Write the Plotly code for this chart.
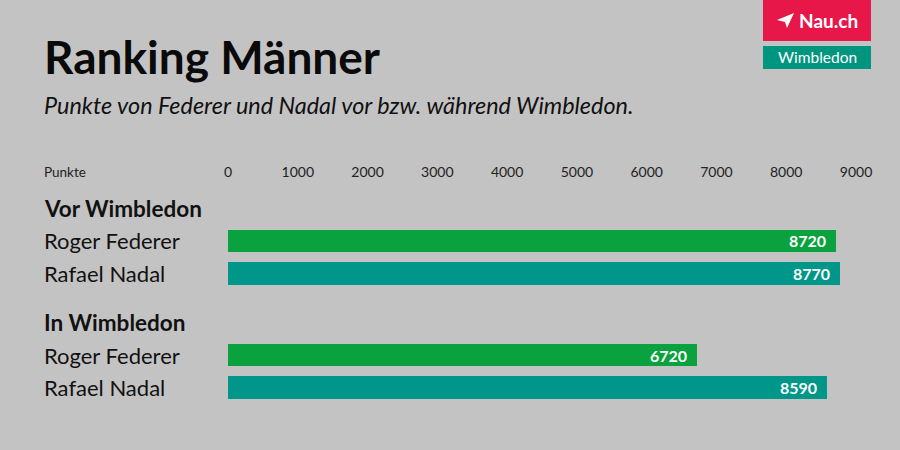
import plotly.graph_objects as go

# Daten
gruppen = ["Vor Wimbledon", "In Wimbledon"]
spieler = ["Roger Federer", "Rafael Nadal"]
punkte_vor = [8720, 8770]
punkte_in = [6720, 8590]
x_ticks = [0, 1000, 2000, 3000, 4000, 5000, 6000, 7000, 8000, 9000]

farben = {"Roger Federer": "#09a23e", "Rafael Nadal": "#00978a"}
bg = "#c4c3c3"
schrift = "Lato"

W, H = 900, 450
L, R, T, B = 228, 44, 192, 46
PW, PH = W - L - R, H - T - B


def px_x(p):
    return (p - L) / PW


def px_y(p):
    return 1 - (p - T) / PH


# Zeilenpositionen: Kopfzeile je Gruppe, dann die Spieler
def zeile(g, i):
    return g * 3.5 + i


werte = [punkte_vor, punkte_in]

fig = go.Figure()
for k, name in enumerate(spieler):
    ys = [zeile(g, k + 1) for g in range(len(gruppen))]
    xs = [werte[g][k] for g in range(len(gruppen))]
    fig.add_trace(go.Bar(
        x=xs, y=ys, orientation="h",
        marker=dict(color=farben[name], line=dict(width=0)),
        width=0.7,
        hoverinfo="skip",
        showlegend=False,
    ))
    # Wert rechts im Balken
    for xv, yv in zip(xs, ys):
        fig.add_annotation(
            x=xv, y=yv, xref="x", yref="y", text=f"<b>{xv}</b>",
            showarrow=False, xanchor="right", yanchor="middle", xshift=-8,
            font=dict(family=schrift, size=16, color="white"),
        )


def text(x, y, s, size, yref="paper", xanchor="left", farbe="#111111"):
    fig.add_annotation(
        x=x, xref="paper", y=y, yref=yref, text=s, showarrow=False,
        xanchor=xanchor, yanchor="middle",
        font=dict(family=schrift, size=size, color=farbe),
    )


# Zeilenbeschriftungen links
for g, gname in enumerate(gruppen):
    text(px_x(42), zeile(g, 0), f"<b>{gname}</b>", 22.5, yref="y")
    for k, name in enumerate(spieler):
        text(px_x(42), zeile(g, k + 1), name, 22, yref="y")

text(px_x(42), px_y(172), "Punkte", 13.5, farbe="#222222")

# Titel und Untertitel
text(px_x(42), px_y(56), "<b>Ranking Männer</b>", 46, farbe="#0a0a0a")
text(px_x(42), px_y(105),
     "<i>Punkte von Federer und Nadal vor bzw. während Wimbledon.</i>", 23.4)

# Logo oben rechts
fig.add_shape(type="rect", xref="paper", yref="paper",
              x0=px_x(763), x1=px_x(871), y0=px_y(0), y1=px_y(41),
              fillcolor="#e8174a", line=dict(width=0))
fig.add_shape(type="rect", xref="paper", yref="paper",
              x0=px_x(763), x1=px_x(871), y0=px_y(46), y1=px_y(69),
              fillcolor="#00957f", line=dict(width=0))
fig.add_shape(type="path", xref="paper", yref="paper",
              path=(f"M {px_x(777)} {px_y(20)} L {px_x(794)} {px_y(13)} "
                    f"L {px_x(787)} {px_y(28)} L {px_x(785)} {px_y(22)} Z"),
              fillcolor="white", line=dict(width=0))
text(px_x(797), px_y(20), "<b>Nau.ch</b>", 19, farbe="white")
text(px_x(817), px_y(57.5), "Wimbledon", 15.5, xanchor="center", farbe="white")

fig.update_layout(
    width=W, height=H,
    margin=dict(l=L, r=R, t=T, b=B),
    paper_bgcolor=bg, plot_bgcolor=bg,
    bargap=0,
    xaxis=dict(
        range=[0, 9000], side="top", tickvals=x_ticks,
        showgrid=False, zeroline=False, showline=False,
        ticks="outside", ticklen=8, tickcolor="rgba(0,0,0,0)",
        tickfont=dict(family=schrift, size=14, color="#222222"),
        fixedrange=True,
    ),
    yaxis=dict(
        range=[6.0, -0.5], showticklabels=False, showgrid=False,
        zeroline=False, showline=False, fixedrange=True,
    ),
)

fig.write_html("out.html", config={"displayModeBar": False},
               post_script="document.body.style.margin='0';")
